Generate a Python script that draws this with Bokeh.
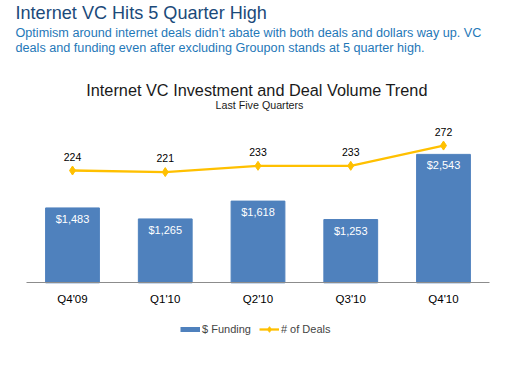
from bokeh.plotting import figure
from bokeh.models import ColumnDataSource, Range1d, Label, Legend, LegendItem
from bokeh.core.properties import value
from bokeh.embed import file_html
from bokeh.resources import INLINE

# ---- data ----
quarters = ["Q4'09", "Q1'10", "Q2'10", "Q3'10", "Q4'10"]
funding = [1483, 1265, 1618, 1253, 2543]
deals = [224, 221, 233, 233, 272]
funding_labels = ["$" + f"{v:,}" for v in funding]
deal_labels = [str(v) for v in deals]

headline = "Internet VC Hits 5 Quarter High"
paragraph_1 = "Optimism around internet deals didn\u2019t abate with both deals and dollars way up.  VC"
paragraph_2 = "deals and funding even after excluding Groupon stands at 5 quarter high."
chart_title = "Internet VC Investment and Deal Volume Trend"
chart_subtitle = "Last Five Quarters"
legend_labels = ["$ Funding", "# of Deals"]

FONT = "Liberation Sans"
BAR = "#4F81BD"
GOLD = "#FFC000"

src = ColumnDataSource(dict(q=quarters, funding=funding, deals=deals,
                            flab=funding_labels, dlab=deal_labels))

# the frame fills (almost) the whole canvas; headings and legend are drawn inside it
p = figure(x_range=quarters, y_range=Range1d(-1637, 5590),
           frame_width=503, frame_height=365, output_backend="svg", toolbar_location=None,
           min_border_left=6, min_border_right=0, min_border_top=0, min_border_bottom=0)
p.extra_y_ranges = {"deals": Range1d(-151, 551)}
p.x_range.range_padding = 0.2116
p.x_range.range_padding_units = "absolute"

bars = p.vbar(x="q", top="funding", width=0.58, source=src, color=BAR)
p.text(x="q", y="funding", text="flab", source=src, text_color="white",
       text_font=value(FONT), text_font_size="11px", text_align="center",
       text_baseline="middle", y_offset=11)

ln = p.line(x="q", y="deals", source=src, color=GOLD, line_width=2.3, y_range_name="deals")
sc = p.scatter(x="q", y="deals", source=src, marker="diamond", size=9, color=GOLD,
               y_range_name="deals")
p.text(x="q", y="deals", text="dlab", source=src, text_color="black",
       text_font=value(FONT), text_font_size="10.5px", text_align="center",
       text_baseline="middle", y_offset=-14, y_range_name="deals")

# single-point line: draws nothing in the plot, gives a thin swatch in the legend
proxy = p.line(x=quarters[:1], y=funding[:1], color=BAR, line_width=5)

legend = Legend(items=[LegendItem(label=legend_labels[0], renderers=[proxy]),
                       LegendItem(label=legend_labels[1], renderers=[ln, sc])],
                orientation="horizontal", location=(174, 29),
                label_text_font=FONT, label_text_font_size="11px",
                glyph_width=20, glyph_height=14, label_height=14,
                label_standoff=2, spacing=8, padding=0, margin=0,
                border_line_color=None, background_fill_alpha=0)
p.add_layout(legend)

p.yaxis.visible = False
p.xgrid.visible = False
p.ygrid.visible = False
p.outline_line_color = None
ax = p.xaxis[0]
ax.fixed_location = 0
ax.bounds = (0, 5)
ax.axis_line_color = "#8c8c8c"
ax.major_tick_line_color = None
ax.minor_tick_line_color = None
ax.major_tick_out = 0
ax.major_label_standoff = 10
ax.major_label_text_font = FONT
ax.major_label_text_font_size = "11.5px"
ax.major_label_text_color = "black"

def add_text(txt, x, y, size, color, align="left"):
    p.add_layout(Label(x=x, y=y, x_units="screen", y_units="screen", text=txt,
                       text_font=FONT, text_font_size=size, text_color=color,
                       text_align=align, text_baseline="middle"))

add_text(headline, 9, 352.2, "18.1px", "#1B4A7A")
add_text(paragraph_1, 9, 332.3, "12.65px", "#1F78B8")
add_text(paragraph_2, 9, 317.7, "12.65px", "#1F78B8")
add_text(chart_title, 250.5, 275.8, "16.3px", "#1a1a1a", "center")
add_text(chart_subtitle, 253, 260.8, "10.7px", "#1a1a1a", "center")

open("out.html", "w").write(file_html(p, INLINE))
